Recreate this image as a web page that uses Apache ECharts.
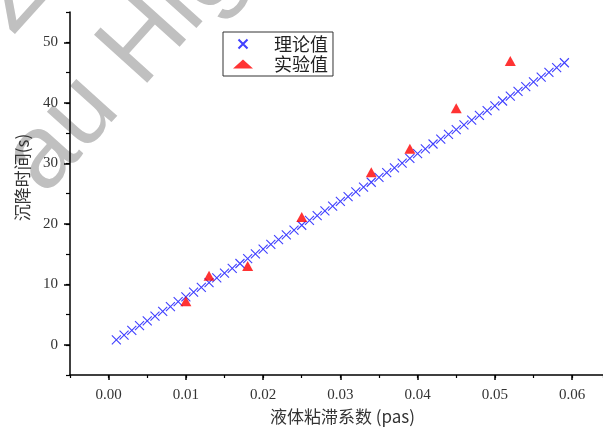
<!DOCTYPE html>
<html>
<head>
<meta charset="utf-8">
<script src="https://cdn.jsdelivr.net/npm/echarts@6/dist/echarts.min.js"></script>
<style>
  html, body { margin: 0; padding: 0; background: #fff; }
  #main { width: 603px; height: 430px; }
</style>
</head>
<body>
<div id="main"></div>
<script>
// 理论值: viscosity (pas) and settling time (s)
var theoryX = [0.001, 0.002, 0.003, 0.004, 0.005, 0.006, 0.007, 0.008, 0.009, 0.010,
  0.011, 0.012, 0.013, 0.014, 0.015, 0.016, 0.017, 0.018, 0.019, 0.020,
  0.021, 0.022, 0.023, 0.024, 0.025, 0.026, 0.027, 0.028, 0.029, 0.030,
  0.031, 0.032, 0.033, 0.034, 0.035, 0.036, 0.037, 0.038, 0.039, 0.040,
  0.041, 0.042, 0.043, 0.044, 0.045, 0.046, 0.047, 0.048, 0.049, 0.050,
  0.051, 0.052, 0.053, 0.054, 0.055, 0.056, 0.057, 0.058, 0.059];
var theoryY = [0.79, 1.58, 2.37, 3.16, 3.95, 4.74, 5.53, 6.32, 7.11, 7.90,
  8.69, 9.48, 10.27, 11.06, 11.85, 12.64, 13.43, 14.22, 15.01, 15.80,
  16.59, 17.38, 18.17, 18.96, 19.75, 20.54, 21.33, 22.12, 22.91, 23.70,
  24.49, 25.28, 26.07, 26.86, 27.65, 28.44, 29.23, 30.02, 30.81, 31.60,
  32.39, 33.18, 33.97, 34.76, 35.55, 36.34, 37.13, 37.92, 38.71, 39.50,
  40.29, 41.08, 41.87, 42.66, 43.45, 44.24, 45.03, 45.82, 46.61];

// 实验值
var expX = [0.010, 0.013, 0.018, 0.025, 0.034, 0.039, 0.045, 0.052];
var expY = [7.2, 11.4, 13.0, 21.1, 28.5, 32.4, 39.1, 46.9];

var seriesNames = ['理论值', '实验值'];

var chart = echarts.init(document.getElementById('main'));

var numFont = 'Liberation Serif';
var cjkFont = 'Noto Sans CJK SC';
var crossPath = 'path://M0,0L10,10M10,0L0,10';
var markGray = '#c0c0c0';

function pairs(xs, ys) {
  var out = [];
  for (var i = 0; i < xs.length; i++) out.push([xs[i], ys[i]]);
  return out;
}

var option = {
  backgroundColor: '#fff',
  animation: false,
  grid: { left: 70, right: 0, top: 12, bottom: 54 },
  legend: {
    orient: 'vertical',
    left: 223,
    top: 32,
    padding: [2, 5, 2, 10],
    itemGap: 0,
    itemWidth: 20,
    itemHeight: 9,
    borderColor: '#333',
    borderWidth: 1,
    borderRadius: 0,
    data: seriesNames,
    textStyle: {
      fontFamily: cjkFont,
      fontSize: 18,
      lineHeight: 20,
      color: '#222',
      padding: [0, 0, 0, 16]
    }
  },
  xAxis: [
    {
      type: 'value',
      position: 'bottom',
      min: -0.005,
      max: 0.064,
      splitNumber: 7,
      name: '液体粘滞系数 (pas)',
      nameLocation: 'middle',
      nameGap: 33,
      nameTextStyle: { fontFamily: cjkFont, fontSize: 17, color: '#333', padding: [0, 0, 0, 12] },
      axisLine: { show: true, onZero: false, lineStyle: { color: '#000', width: 1.5 } },
      axisTick: { show: true, inside: false, length: 5, lineStyle: { color: '#000', width: 1.5 } },
      axisLabel: {
        showMinLabel: false,
        showMaxLabel: false,
        margin: 13,
        fontFamily: numFont,
        fontSize: 15,
        color: '#333',
        formatter: function (v) { return v.toFixed(2); }
      },
      splitLine: { show: false }
    },
    {
      type: 'value',
      position: 'bottom',
      min: -0.005,
      max: 0.064,
      interval: 0.005,
      axisLine: { show: false, onZero: false },
      axisTick: { show: true, inside: false, length: 3, lineStyle: { color: '#000', width: 1.2 } },
      axisLabel: { show: false },
      splitLine: { show: false }
    }
  ],
  yAxis: [
    {
      type: 'value',
      position: 'left',
      min: -5,
      max: 55,
      splitNumber: 6,
      name: '沉降时间(s)',
      nameLocation: 'middle',
      nameGap: 39,
      nameTextStyle: { fontFamily: cjkFont, fontSize: 17, color: '#333', padding: [0, 0, 0, 32] },
      axisLine: { show: true, onZero: false, lineStyle: { color: '#000', width: 1.5 } },
      axisTick: { show: true, inside: false, length: 6, lineStyle: { color: '#000', width: 1.5 } },
      axisLabel: {
        showMinLabel: false,
        showMaxLabel: false,
        margin: 12,
        fontFamily: numFont,
        fontSize: 15,
        color: '#333'
      },
      splitLine: { show: false }
    },
    {
      type: 'value',
      position: 'left',
      min: -5,
      max: 55,
      interval: 5,
      axisLine: { show: false, onZero: false },
      axisTick: { show: true, inside: false, length: 4, lineStyle: { color: '#000', width: 1.2 } },
      axisLabel: { show: false },
      splitLine: { show: false }
    }
  ],
  graphic: [
    {
      type: 'text',
      x: 62, y: 212,
      rotation: 48 * Math.PI / 180,
      z: -10,
      silent: true,
      style: {
        text: 'au Hig',
        fontFamily: 'Liberation Sans',
        fontSize: 104,
        fill: markGray,
        textAlign: 'left',
        textVerticalAlign: 'bottom'
      }
    },
    {
      type: 'text',
      x: 30, y: 52,
      rotation: 48 * Math.PI / 180,
      z: -10,
      silent: true,
      style: {
        text: 'Z',
        fontFamily: 'Liberation Sans',
        fontSize: 104,
        fill: markGray,
        textAlign: 'left',
        textVerticalAlign: 'bottom'
      }
    }
  ],
  series: [
    {
      name: seriesNames[0],
      type: 'scatter',
      xAxisIndex: 0,
      yAxisIndex: 0,
      symbol: crossPath,
      symbolSize: 9,
      itemStyle: { color: 'rgba(0,0,0,0)', borderColor: '#1010ff', borderWidth: 1.1 },
      data: pairs(theoryX, theoryY)
    },
    {
      name: seriesNames[1],
      type: 'scatter',
      xAxisIndex: 0,
      yAxisIndex: 0,
      symbol: 'triangle',
      symbolSize: [11, 10],
      itemStyle: { color: '#ff0000' },
      data: pairs(expX, expY)
    }
  ]
};

chart.setOption(option);
</script>
</body>
</html>
